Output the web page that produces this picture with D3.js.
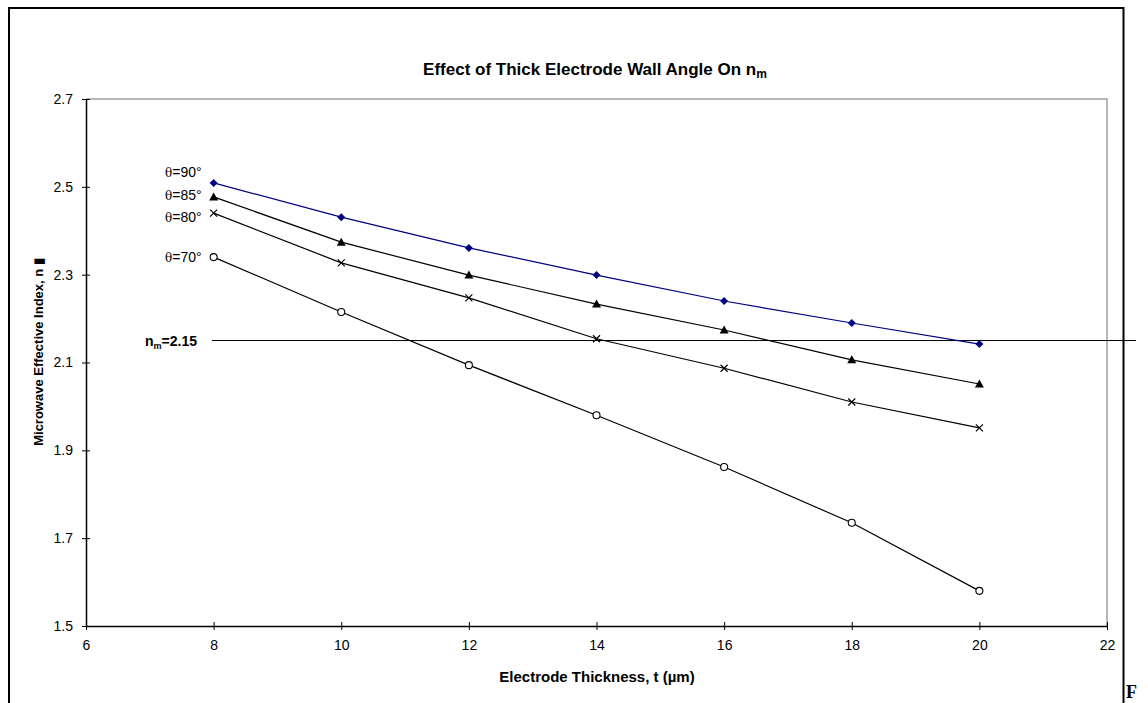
<!DOCTYPE html>
<html>
<head>
<meta charset="utf-8">
<script src="https://cdn.jsdelivr.net/npm/d3@7"></script>
<style>
  html, body { margin: 0; padding: 0; background: #fff; }
  svg { display: block; font-family: Arial, "Liberation Sans", sans-serif; }
</style>
</head>
<body>
<svg id="chart" width="1148" height="703"></svg>
<script>
// Electrode thickness (µm)
const thickness = [8, 10, 12, 14, 16, 18, 20];
// Microwave effective index for each wall angle
const theta90 = [2.509, 2.431, 2.361, 2.299, 2.240, 2.190, 2.142];
const theta85 = [2.477, 2.374, 2.299, 2.233, 2.174, 2.106, 2.051];
const theta80 = [2.440, 2.327, 2.247, 2.154, 2.087, 2.010, 1.951];
const theta70 = [2.340, 2.215, 2.094, 1.980, 1.862, 1.735, 1.580];
const seriesNames = ["=90°", "=85°", "=80°", "=70°"];
const targetIndex = 2.15;
const xTicks = [6, 8, 10, 12, 14, 16, 18, 20, 22];
const yTicks = [1.5, 1.7, 1.9, 2.1, 2.3, 2.5, 2.7];

const svg = d3.select("#chart");

// outer frame (left, top, right edges)
svg.append("path")
  .attr("d", "M9,703 V8 H1123.5 V703")
  .attr("fill", "none").attr("stroke", "#000").attr("stroke-width", 2);

const plot = { left: 86, right: 1107, top: 99, bottom: 626 };
const x = d3.scaleLinear().domain([6, 22]).range([plot.left, plot.right]);
const y = d3.scaleLinear().domain([1.5, 2.7]).range([plot.bottom, plot.top]);

// plot area border (top and right in grey)
svg.append("path")
  .attr("d", `M${plot.left},${plot.top} H${plot.right} V${plot.bottom}`)
  .attr("fill", "none").attr("stroke", "#a0a0a0").attr("stroke-width", 1.5);

// axes with crossing tick marks
const xAxis = svg.append("g").attr("transform", `translate(0,${plot.bottom})`)
  .call(d3.axisBottom(x).tickValues(xTicks).tickSize(0).tickPadding(14).tickFormat(d3.format("d")));
xAxis.select(".domain").attr("stroke", "#000").attr("stroke-width", 1.5);
xAxis.selectAll(".tick").append("line").attr("y1", -4).attr("y2", 4).attr("stroke", "#000");
xAxis.selectAll("text").attr("font-size", 14).attr("fill", "#000").attr("font-family", "Arial, 'Liberation Sans', sans-serif");

const yAxis = svg.append("g").attr("transform", `translate(${plot.left},0)`)
  .call(d3.axisLeft(y).tickValues(yTicks).tickSize(0).tickPadding(13).tickFormat(d3.format(".1f")));
yAxis.select(".domain").attr("stroke", "#000").attr("stroke-width", 1.5);
yAxis.selectAll(".tick").append("line").attr("x1", -4).attr("x2", 4).attr("stroke", "#000");
yAxis.selectAll("text").attr("font-size", 14).attr("fill", "#000").attr("font-family", "Arial, 'Liberation Sans', sans-serif");

// title
const title = svg.append("text").attr("x", 595).attr("y", 75)
  .attr("text-anchor", "middle").attr("font-size", 17).attr("font-weight", "bold");
title.append("tspan").text("Effect of Thick Electrode Wall Angle On n");
title.append("tspan").attr("font-size", 12).attr("dy", 3).text("m");

// axis titles
svg.append("text").attr("x", 597).attr("y", 682).attr("text-anchor", "middle")
  .attr("font-size", 15).attr("font-weight", "bold").text("Electrode Thickness, t (\u00b5m)");

const yt = svg.append("text").attr("transform", "translate(43,352) rotate(-90)")
  .attr("text-anchor", "middle").attr("font-size", 13).attr("font-weight", "bold");
yt.append("tspan").text("Microwave Effective Index, n ");
yt.append("tspan").text("\u25ae");

// target index line
svg.append("line")
  .attr("x1", 212).attr("x2", 1136)
  .attr("y1", y(targetIndex)).attr("y2", y(targetIndex))
  .attr("stroke", "#000").attr("stroke-width", 1);
const nl = svg.append("text").attr("x", 145).attr("y", y(targetIndex) + 5)
  .attr("font-size", 14).attr("font-weight", "bold");
nl.append("tspan").text("n");
nl.append("tspan").attr("font-size", 9).attr("dy", 3).text("m");
nl.append("tspan").attr("dy", -3).text("=2.15");

// series
const series = [
  { vals: theta90, color: "#000080", marker: "diamond", label: seriesNames[0], ly: 177 },
  { vals: theta85, color: "#000000", marker: "triangle", label: seriesNames[1], ly: 200 },
  { vals: theta80, color: "#000000", marker: "cross", label: seriesNames[2], ly: 222 },
  { vals: theta70, color: "#000000", marker: "circle", label: seriesNames[3], ly: 262 }
];

const line = d3.line().x((d, i) => x(thickness[i])).y(d => y(d));

series.forEach(s => {
  svg.append("path").datum(s.vals).attr("d", line)
    .attr("fill", "none").attr("stroke", s.color).attr("stroke-width", 1.2);
  const g = svg.append("g");
  s.vals.forEach((v, i) => {
    const cx = x(thickness[i]), cy = y(v);
    if (s.marker === "diamond") {
      g.append("path").attr("d", `M${cx},${cy - 4}L${cx + 4},${cy}L${cx},${cy + 4}L${cx - 4},${cy}Z`)
        .attr("fill", s.color);
    } else if (s.marker === "triangle") {
      g.append("path").attr("d", `M${cx},${cy - 4.5}L${cx + 4.5},${cy + 3.5}L${cx - 4.5},${cy + 3.5}Z`)
        .attr("fill", s.color);
    } else if (s.marker === "cross") {
      g.append("path").attr("d", `M${cx - 3.5},${cy - 3.5}L${cx + 3.5},${cy + 3.5}M${cx + 3.5},${cy - 3.5}L${cx - 3.5},${cy + 3.5}`)
        .attr("stroke", s.color).attr("stroke-width", 1.2);
    } else {
      g.append("circle").attr("cx", cx).attr("cy", cy).attr("r", 3.5)
        .attr("fill", "#fff").attr("stroke", s.color).attr("stroke-width", 1.1);
    }
  });
  const t = svg.append("text").attr("x", 165).attr("y", s.ly).attr("font-size", 14);
  t.append("tspan").attr("font-family", "'DejaVu Serif', 'Liberation Serif', serif").attr("font-size", 12).text("\u03b8");
  t.append("tspan").text(s.label);
});

// page letter at the lower right
svg.append("text").attr("x", 1126).attr("y", 698)
  .attr("font-family", "'Liberation Serif', 'Times New Roman', serif")
  .attr("font-size", 18).attr("font-weight", "bold").text("F");
</script>
</body>
</html>
